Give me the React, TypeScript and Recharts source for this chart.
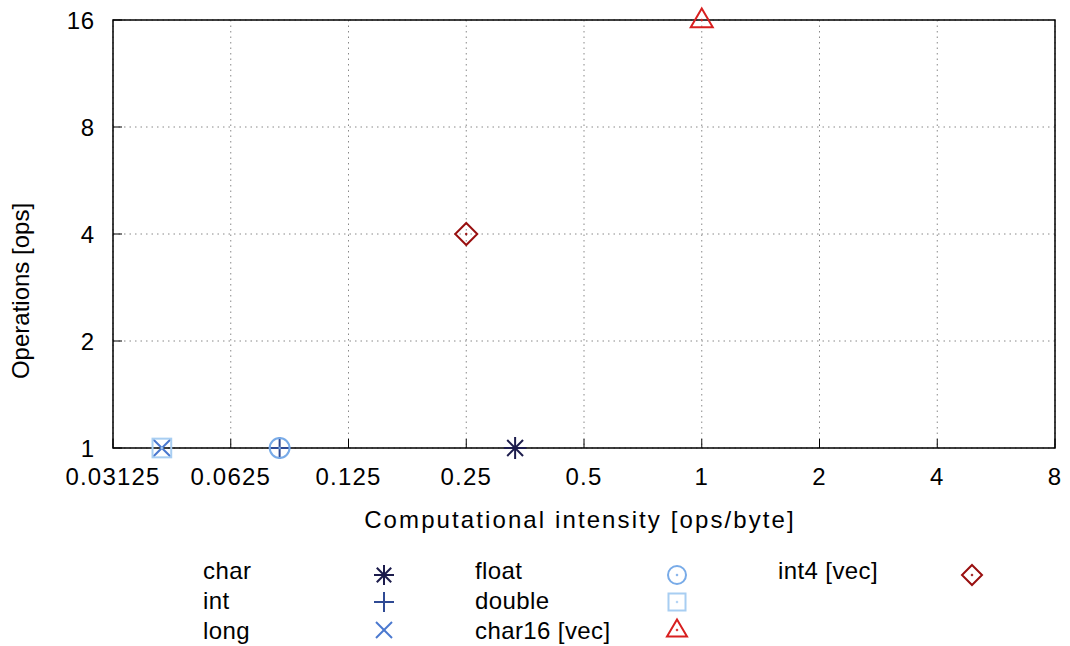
import React from 'react';
import {
  ScatterChart,
  Scatter,
  XAxis,
  YAxis,
  CartesianGrid,
  ReferenceArea
} from 'recharts';

// Series as they appear in the key
const SERIES = ['char', 'int', 'long', 'float', 'double', 'char16 [vec]', 'int4 [vec]'];
const INTENSITY = [1 / 3, 1 / 12, 1 / 24, 1 / 12, 1 / 24, 1, 0.25];
const OPERATIONS = [1, 1, 1, 1, 1, 16, 4];
const MARKERS = ['star', 'plus', 'cross', 'circle', 'square', 'triangle', 'diamond'];
const COLORS = ['#1c1c4c', '#2f4a94', '#4a78cf', '#78abe8', '#a8cef2', '#d81f1f', '#990f0f'];

const X_TICKS = [0.03125, 0.0625, 0.125, 0.25, 0.5, 1, 2, 4, 8];
const Y_TICKS = [1, 2, 4, 8, 16];

const FONT = '"Liberation Sans", Arial, sans-serif';

// gnuplot-like point types
function drawMarker(kind: string, cx: number, cy: number, color: string, s = 10) {
  const sw = 2;
  switch (kind) {
    case 'star':
      return (
        <g stroke={color} strokeWidth={sw}>
          <line x1={cx - s} y1={cy} x2={cx + s} y2={cy} />
          <line x1={cx} y1={cy - s} x2={cx} y2={cy + s} />
          <line x1={cx - s * 0.72} y1={cy - s * 0.72} x2={cx + s * 0.72} y2={cy + s * 0.72} />
          <line x1={cx - s * 0.72} y1={cy + s * 0.72} x2={cx + s * 0.72} y2={cy - s * 0.72} />
        </g>
      );
    case 'plus':
      return (
        <g stroke={color} strokeWidth={sw}>
          <line x1={cx - s} y1={cy} x2={cx + s} y2={cy} />
          <line x1={cx} y1={cy - s} x2={cx} y2={cy + s} />
        </g>
      );
    case 'cross':
      return (
        <g stroke={color} strokeWidth={sw}>
          <line x1={cx - s * 0.8} y1={cy - s * 0.8} x2={cx + s * 0.8} y2={cy + s * 0.8} />
          <line x1={cx - s * 0.8} y1={cy + s * 0.8} x2={cx + s * 0.8} y2={cy - s * 0.8} />
        </g>
      );
    case 'circle':
      return (
        <g stroke={color} strokeWidth={sw} fill="none">
          <circle cx={cx} cy={cy} r={s * 0.9} />
          <circle cx={cx} cy={cy} r={1} fill={color} strokeWidth={0.5} />
        </g>
      );
    case 'square':
      return (
        <g stroke={color} strokeWidth={sw} fill="none">
          <rect x={cx - s * 0.85} y={cy - s * 0.85} width={s * 1.7} height={s * 1.7} />
          <circle cx={cx} cy={cy} r={1} fill={color} strokeWidth={0.5} />
        </g>
      );
    case 'triangle':
      return (
        <g stroke={color} strokeWidth={sw} fill="none">
          <polygon points={`${cx},${cy - s * 1.05} ${cx + s},${cy + s * 0.65} ${cx - s},${cy + s * 0.65}`} />
          <circle cx={cx} cy={cy} r={1} fill={color} strokeWidth={0.5} />
        </g>
      );
    default:
      return (
        <g stroke={color} strokeWidth={sw} fill="none">
          <polygon points={`${cx},${cy - s} ${cx + s},${cy} ${cx},${cy + s} ${cx - s},${cy}`} />
          <circle cx={cx} cy={cy} r={1} fill={color} strokeWidth={0.5} />
        </g>
      );
  }
}

const XTick = ({ x, y, payload }: any) => (
  <g>
    <line x1={x} x2={x} y1={y} y2={y - 9} stroke="#000" strokeWidth={1} />
    <text x={x} y={y + 37} textAnchor="middle" fontSize={24} letterSpacing={1.2} fontFamily={FONT} fill="#000">
      {payload.value}
    </text>
  </g>
);

const YTick = ({ x, y, payload }: any) => (
  <g>
    <line x1={x} x2={x + 9} y1={y} y2={y} stroke="#000" strokeWidth={1} />
    <text x={x - 18} y={y + 9} textAnchor="end" fontSize={24} letterSpacing={0.8} fontFamily={FONT} fill="#000">
      {payload.value}
    </text>
  </g>
);

// legend layout: three columns, three rows
const LEGEND_COLS = [
  { text: 203, mark: 384 },
  { text: 475, mark: 677 },
  { text: 778, mark: 972 }
];
const LEGEND_MARK_Y = [575, 602, 630];
const LEGEND_TEXT_Y = [579, 609, 639];

export default function App() {
  const data = SERIES.map((name, i) => [{ x: INTENSITY[i], y: OPERATIONS[i] }]);

  return (
    <div style={{ position: 'absolute', left: 0, top: 0, width: 1070, height: 646, background: '#fff' }}>
      <ScatterChart width={1070} height={646} margin={{ top: 20, right: 15, bottom: 168, left: 53 }}>
        <CartesianGrid stroke="#888" strokeDasharray="1.5 4" />
        <XAxis
          type="number"
          dataKey="x"
          scale="log"
          domain={[0.03125, 8]}
          ticks={X_TICKS}
          axisLine={false}
          tickLine={false}
          tickSize={0}
          tickMargin={0}
          tick={<XTick />}
          height={30}
          interval={0}
        />
        <YAxis
          type="number"
          dataKey="y"
          scale="log"
          domain={[1, 16]}
          ticks={Y_TICKS}
          axisLine={false}
          tickLine={false}
          tickSize={0}
          tickMargin={0}
          tick={<YTick />}
          width={60}
          interval={0}
        />
        <ReferenceArea
          x1={0.03125}
          x2={8}
          y1={1}
          y2={16}
          fill="none"
          fillOpacity={0}
          stroke="#000"
          strokeWidth={1.5}
          ifOverflow="visible"
        />
        {SERIES.map((name, i) => (
          <Scatter
            key={name}
            name={name}
            data={data[i]}
            isAnimationActive={false}
            shape={(p: any) => drawMarker(MARKERS[i], p.cx, p.cy, COLORS[i], 11)}
          />
        ))}
        <text x={580} y={528} textAnchor="middle" fontSize={24} fontFamily={FONT} letterSpacing={2.1} fill="#000">
          Computational intensity [ops/byte]
        </text>
        <text
          x={29}
          y={291}
          textAnchor="middle"
          fontSize={24}
          fontFamily={FONT}
          fill="#000"
          transform="rotate(-90 29 291)"
        >
          Operations [ops]
        </text>
      </ScatterChart>
      <svg width={1070} height={646} style={{ position: 'absolute', left: 0, top: 0, pointerEvents: 'none' }}>
        {SERIES.map((name, i) => {
          const col = LEGEND_COLS[Math.floor(i / 3)];
          const row = i % 3;
          return (
            <g key={name}>
              <text x={col.text} y={LEGEND_TEXT_Y[row]} fontSize={24} fontFamily={FONT} letterSpacing={0.4} fill="#000">
                {name}
              </text>
              {drawMarker(MARKERS[i], col.mark, LEGEND_MARK_Y[row], COLORS[i], 10)}
            </g>
          );
        })}
      </svg>
    </div>
  );
}
